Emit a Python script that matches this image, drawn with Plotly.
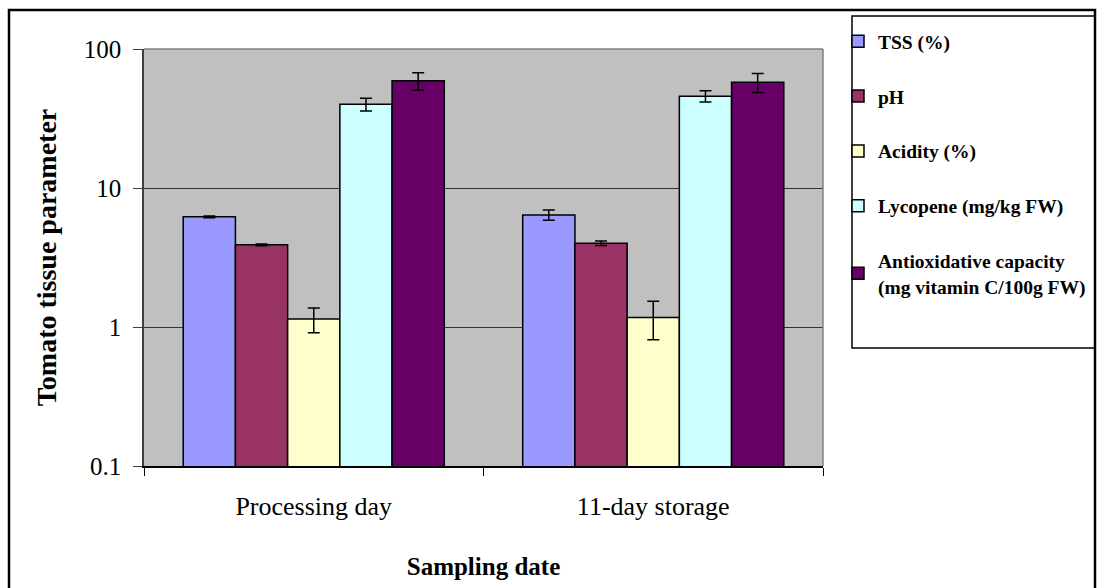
import plotly.graph_objects as go

categories = ["Processing day", "11-day storage"]
series_names = ["TSS (%)", "pH", "Acidity (%)", "Lycopene (mg/kg FW)",
                "Antioxidative capacity<br>(mg vitamin C/100g FW)"]
tss = [6.2, 6.4]
tss_err = [0.1, 0.55]
ph = [3.9, 4.0]
ph_err = [0.06, 0.15]
acidity = [1.14, 1.17]
acidity_err = [0.23, 0.36]
lycopene = [40.0, 45.8]
lycopene_err = [4.2, 4.2]
antiox = [59.0, 57.7]
antiox_err = [8.6, 9.0]
colors = ["#9999FF", "#993366", "#FFFFCC", "#CCFFFF", "#660066"]
y_tickvals = [0.1, 1, 10, 100]
y_ticktext = ["0.1", "1", "10", "100"]

values = [tss, ph, acidity, lycopene, antiox]
errors = [tss_err, ph_err, acidity_err, lycopene_err, antiox_err]

FONT = "Liberation Serif"
W, H = 1098, 588
L, R, T, B = 144, 823, 49, 466

def px_x(p):
    return (p - L) / (R - L)

def px_y(p):
    return 1 - (p - T) / (B - T)

fig = go.Figure()
for i, (name, v, e, c) in enumerate(zip(series_names, values, errors, colors)):
    fig.add_trace(go.Bar(
        x=categories, y=v, name=name, legendgroup=f"g{i}",
        marker=dict(color=c, line=dict(color="black", width=1.5)),
        error_y=dict(type="data", array=e, visible=True, color="black",
                     thickness=1.5, width=6),
    ))

fig.update_layout(
    width=W, height=H,
    margin=dict(l=L, r=W - R, t=T, b=H - B, autoexpand=False),
    paper_bgcolor="white", plot_bgcolor="#C0C0C0",
    barmode="group", bargap=0.231, bargroupgap=0,
    font=dict(family=FONT, color="black"),
    showlegend=True,
    legend=dict(x=px_x(838), y=px_y(22), xanchor="left", yanchor="top",
                bgcolor="rgba(0,0,0,0)", borderwidth=0,
                font=dict(family=FONT, size=19.5, color="black", weight="bold"),
                tracegroupgap=26.5, traceorder="grouped", itemwidth=30,
                maxheight=560),
)

fig.update_xaxes(
    type="category", showline=True, linecolor="black", linewidth=1.5,
    ticks="outside", tickson="boundaries", ticklen=8, tickcolor="black",
    tickfont=dict(family=FONT, size=26), ticklabelstandoff=16,
    showgrid=False,
    title=dict(text="<b>Sampling date</b>", font=dict(family=FONT, size=25),
               standoff=38),
)
fig.update_yaxes(
    type="log", range=[-1, 2], tickvals=y_tickvals, ticktext=y_ticktext,
    showline=True, linecolor="#404040", linewidth=1.5,
    ticks="outside", ticklen=9, tickcolor="#404040",
    tickfont=dict(family=FONT, size=25), ticklabelstandoff=7,
    showgrid=True, gridcolor="#333333", gridwidth=1,
    title=dict(text="<b>Tomato tissue parameter</b>",
               font=dict(family=FONT, size=28), standoff=19),
    zeroline=False,
)

# plot area top/right border (gray)
fig.add_shape(type="line", xref="paper", yref="paper", x0=0, x1=1, y0=1, y1=1,
              line=dict(color="#808080", width=1.5))
fig.add_shape(type="line", xref="paper", yref="paper", x0=1, x1=1, y0=0, y1=1,
              line=dict(color="#808080", width=1.5))
# outer chart border
fig.add_shape(type="rect", xref="paper", yref="paper",
              x0=px_x(9), x1=px_x(1095), y0=px_y(600), y1=px_y(10),
              line=dict(color="black", width=2.5), layer="above")
# legend box
fig.add_shape(type="rect", xref="paper", yref="paper",
              x0=px_x(852), x1=px_x(1095), y0=px_y(348), y1=px_y(16),
              line=dict(color="black", width=1.5), layer="above")

fig.write_html("out.html", config={"displayModeBar": False},
               post_script="document.body.style.margin='0';document.body.style.overflow='hidden';")
